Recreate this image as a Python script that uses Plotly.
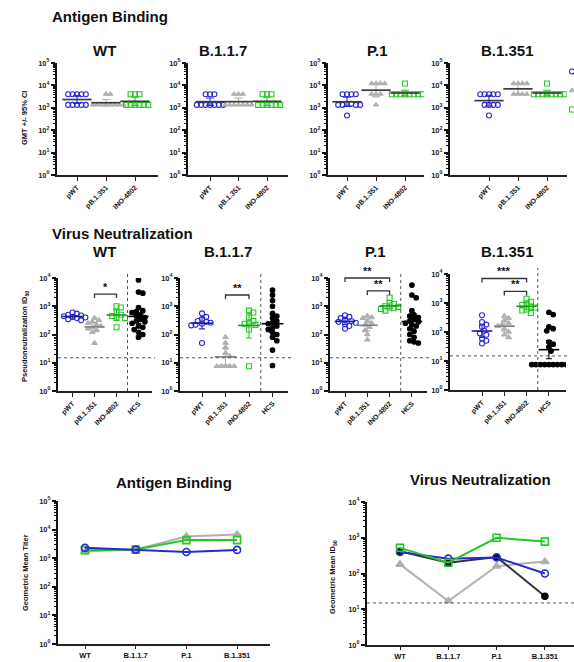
import numpy as np
import plotly.graph_objects as go

W, H = 574, 662
FONT = "Liberation Sans, Arial, sans-serif"

variants = ["WT", "B.1.1.7", "P.1", "B.1.351"]
ab_groups = ["pWT", "pB.1.351", "INO-4802"]
vn_groups = ["pWT", "pB.1.351", "INO-4802", "HCS"]

# ---------------- Antigen binding endpoint titers (top row) ----------------
ab_wt_pwt = [4050, 4050, 4050, 4050, 4050, 1350, 1350, 1350, 1350, 1350]
ab_wt_pb = [4050, 4050, 1350, 1350, 1350, 1350, 1350, 1350, 1350, 1350]
ab_wt_ino = [4050, 4050, 4050, 1350, 1350, 1350, 1350, 1350, 1350]
ab_b117_pwt = [4050, 4050, 4050, 1350, 1350, 1350, 1350, 1350, 1350, 1350]
ab_b117_pb = [4050, 4050, 4050, 1350, 1350, 1350, 1350, 1350, 1350, 1350]
ab_b117_ino = [4050, 4050, 4050, 1350, 1350, 1350, 1350, 1350, 1350]
ab_p1_pwt = [4050, 4050, 4050, 4050, 1500, 1500, 1350, 1350, 1350, 1350, 450]
ab_p1_pb = [12150, 12150, 12150, 12150, 4050, 4050, 4050, 1350]
ab_p1_ino = [12150, 4050, 4050, 4050, 4050, 4050, 4050, 4050, 4050]
ab_b1351_pwt = [4050, 4050, 4050, 4050, 4050, 1350, 1350, 1350, 1350, 450]
ab_b1351_pb = [12150, 12150, 12150, 12150, 4050, 4050, 4050, 4050]
ab_b1351_ino = [12150, 4050, 4050, 4050, 4050, 4050, 4050, 4050, 4050]

# ---------------- Pseudovirus neutralization ID50 (middle row) ----------------
vn_wt_pwt = [600, 550, 500, 470, 440, 420, 400, 380, 350, 320]
vn_wt_pb = [380, 320, 280, 250, 220, 200, 180, 160, 140, 120, 49]
vn_wt_ino = [1000, 900, 600, 500, 450, 400, 380, 180]
vn_wt_hcs = [8500, 3200, 2900, 900, 700, 650, 600, 500, 450, 400, 350, 300, 280,
             250, 200, 180, 150, 120, 100, 80]
vn_b117_pwt = [560, 420, 350, 300, 280, 260, 240, 220, 210, 50]
vn_b117_pb = [80, 50, 35, 22, 17, 7.5, 7.5, 7.5, 7.5, 7.5]
vn_b117_ino = [700, 600, 400, 300, 260, 240, 220, 150, 7.5]
vn_b117_hcs = [3700, 2500, 1600, 1000, 560, 450, 380, 300, 260, 240, 200, 170, 150,
               120, 100, 80, 60, 28, 8]
vn_p1_pwt = [480, 420, 380, 340, 300, 280, 260, 230, 200, 160]
vn_p1_pb = [450, 400, 380, 300, 250, 220, 180, 140, 100, 65]
vn_p1_ino = [2000, 1300, 1200, 1000, 950, 900, 850, 800, 700]
vn_p1_hcs = [5600, 2500, 2000, 700, 500, 450, 400, 350, 300, 280, 250, 220, 200, 160,
             130, 100, 80, 60, 55, 50]
vn_b1351_pwt = [380, 220, 180, 150, 110, 90, 80, 60, 50, 40]
vn_b1351_pb = [350, 300, 250, 200, 180, 160, 130, 100, 80, 65]
vn_b1351_ino = [1400, 1100, 950, 850, 750, 700, 600, 550, 450]
vn_b1351_hcs = [480, 400, 150, 130, 110, 45, 38, 30, 22, 7.5, 7.5, 7.5, 7.5, 7.5,
                7.5, 7.5, 7.5, 7.5, 7.5]

# significance brackets
sig_variant = ["WT", "B.1.1.7", "P.1", "P.1", "B.1.351", "B.1.351"]
sig_from = [1, 1, 0, 1, 0, 1]
sig_to = [2, 2, 2, 2, 2, 2]
sig_height = [2700, 2500, 10000, 3500, 7000, 2500]
sig_label = ["*", "**", "**", "**", "***", "**"]

lod_id50 = 15

# ---------------- Summary geometric means (bottom row) ----------------
gmt_ab_pwt = [2300, 2000, 1650, 1950]
gmt_ab_pb = [1700, 2000, 5700, 6700]
gmt_ab_ino = [1900, 2000, 4300, 4300]
gmt_vn_pwt = [400, 260, 280, 100]
gmt_vn_pb = [180, 17, 160, 215]
gmt_vn_ino = [520, 200, 1000, 780]
gmt_vn_hcs = [420, 200, 290, 23]

ab_data = {"WT": [ab_wt_pwt, ab_wt_pb, ab_wt_ino],
           "B.1.1.7": [ab_b117_pwt, ab_b117_pb, ab_b117_ino],
           "P.1": [ab_p1_pwt, ab_p1_pb, ab_p1_ino],
           "B.1.351": [ab_b1351_pwt, ab_b1351_pb, ab_b1351_ino]}
vn_data = {"WT": [vn_wt_pwt, vn_wt_pb, vn_wt_ino, vn_wt_hcs],
           "B.1.1.7": [vn_b117_pwt, vn_b117_pb, vn_b117_ino, vn_b117_hcs],
           "P.1": [vn_p1_pwt, vn_p1_pb, vn_p1_ino, vn_p1_hcs],
           "B.1.351": [vn_b1351_pwt, vn_b1351_pb, vn_b1351_ino, vn_b1351_hcs]}

COL = {"pWT": "#2828d4", "pB.1.351": "#b0b0b0", "INO-4802": "#25c825", "HCS": "#000000"}
SYM = {"pWT": "circle-open", "pB.1.351": "triangle-up", "INO-4802": "square-open", "HCS": "circle"}

# ---------------- geometry (pixels) ----------------
top_geo = {"WT": (57, 158, 77, 29), "B.1.1.7": (188, 288, 210, 28.5),
           "P.1": (328, 424, 347, 29), "B.1.351": (450, 567, 489, 29)}
mid_geo = {"WT": (58, 152, 72.5, 22), "B.1.1.7": (180, 288, 202, 23.5),
           "P.1": (330, 427, 345, 22.3), "B.1.351": (450, 566, 482, 22.3)}
mid_y = {"WT": (278, 391), "B.1.1.7": (278, 391), "P.1": (278, 391), "B.1.351": (274, 390)}


def px2x(px):
    return px / W


def py2y(py):
    return 1 - py / H


layout = {}
annotations = []
shapes = []
n_axes = [0]

TICKFONT = dict(family=FONT, size=7.5, color="#222", weight="bold")


def make_axes(x0, x1, c0, u, ytop, ybot, ymax_exp, xticks, xangle, xfont_size, xticklen=4):
    n_axes[0] += 1
    i = n_axes[0]
    xs = "" if i == 1 else str(i)
    xr = [(x0 - c0) / u, (x1 - c0) / u]
    major = [10 ** e for e in range(0, ymax_exp + 1)]
    minor = [k * 10 ** e for e in range(0, ymax_exp) for k in range(2, 10)]
    layout["xaxis" + xs] = dict(
        domain=[px2x(x0), px2x(x1)], range=xr, anchor="y" + xs,
        tickmode="array", tickvals=list(range(len(xticks))), ticktext=xticks,
        tickangle=xangle, ticks="outside", ticklen=xticklen, tickwidth=1.2, tickcolor="#222",
        showline=True, linewidth=1.8, linecolor="#222", showgrid=False, zeroline=False,
        tickfont=dict(family=FONT, size=xfont_size, color="#111", weight="bold"),
    )
    layout["yaxis" + xs] = dict(
        domain=[py2y(ybot), py2y(ytop)], type="log", range=[0, ymax_exp],
        anchor="x" + xs, tickmode="array", tickvals=major,
        ticktext=["10<sup>%d</sup>" % e for e in range(0, ymax_exp + 1)],
        ticks="outside", ticklen=4, tickwidth=1.5, tickcolor="#111",
        minor=dict(tickmode="array", tickvals=minor, ticks="outside", ticklen=2,
                   tickwidth=1, tickcolor="#111", showgrid=False),
        showline=True, linewidth=2.2, linecolor="#111", showgrid=False, zeroline=False,
        tickfont=TICKFONT,
    )

    def to_px(xv, yv):
        return c0 + u * xv, ybot - np.log10(yv) / ymax_exp * (ybot - ytop)

    return "x" + xs, "y" + xs, to_px


def swarm(vals, upx, px_per_dec, d):
    ly = np.log10(np.asarray(vals, dtype=float)) * px_per_dec
    order = np.argsort(-ly, kind="stable")
    placed = []
    offs = np.zeros(len(vals))
    s = d / 2.0
    for i in order:
        y = ly[i]
        k = 0
        chosen = None
        while chosen is None:
            cands = [0.0] if k == 0 else [k * s, -k * s]
            for c in cands:
                if all(np.hypot(c - px_, y - py_) >= d * 0.98 for px_, py_ in placed):
                    chosen = c
                    break
            k += 1
        placed.append((chosen, y))
        offs[i] = chosen / upx
    return offs


def tval(n):
    df = max(n - 1, 1)
    return 1.96 + 2.4 / df + 3.0 / df ** 2


def gm_ci(vals):
    lv = np.log10(np.asarray(vals, dtype=float))
    m = lv.mean()
    se = lv.std(ddof=1) / np.sqrt(len(lv)) if len(lv) > 1 else 0.0
    t = tval(len(lv))
    return 10 ** m, 10 ** (m - t * se), 10 ** (m + t * se)


def text(x, y, s, size, **kw):
    d = dict(x=px2x(x), y=py2y(y), xref="paper", yref="paper", text=s, showarrow=False,
             xanchor="center", yanchor="middle",
             font=dict(family=FONT, size=size, color="#111", weight="bold"))
    d.update(kw)
    annotations.append(d)


traces = []

# ---------------- top row ----------------
for v in variants:
    x0, x1, c0, u = top_geo[v]
    ytop, ybot = 63, 175
    xr, yr, to_px = make_axes(x0, x1, c0, u, ytop, ybot, 5, ab_groups, -45, 7)
    ppd = (ybot - ytop) / 5
    for gi, g in enumerate(ab_groups):
        vals = ab_data[v][gi]
        offs = swarm(vals, u, ppd, 4.4)
        traces.append(go.Scatter(
            x=gi + offs, y=vals, xaxis=xr, yaxis=yr, mode="markers", name=g,
            legendgroup=g, showlegend=(v == "B.1.351"),
            marker=dict(symbol=SYM[g], size=5 if g != "pB.1.351" else 4.5, color=COL[g],
                        line=dict(width=1.1, color=COL[g]))))
        gm, lo, hi = gm_ci(vals)
        traces.append(go.Scatter(
            x=[gi], y=[gm], xaxis=xr, yaxis=yr, mode="markers", showlegend=False,
            marker=dict(symbol="line-ew", size=2 * 0.36 * u,
                        line=dict(width=1.7, color="#3a3a3a")),
            error_y=dict(type="data", symmetric=False, array=[hi - gm], arrayminus=[gm - lo],
                         color=COL[g], thickness=1.1, width=4)))
    text((top_geo[v][0] + top_geo[v][1]) / 2 + {"WT": -3, "B.1.1.7": -15, "P.1": 1, "B.1.351": -1}[v],
         50, v, 15)

# ---------------- middle row ----------------
for v in variants:
    x0, x1, c0, u = mid_geo[v]
    ytop, ybot = mid_y[v]
    xr, yr, to_px = make_axes(x0, x1, c0, u, ytop, ybot, 4, vn_groups, -45, 7)
    ppd = (ybot - ytop) / 4
    for gi, g in enumerate(vn_groups):
        vals = vn_data[v][gi]
        offs = swarm(vals, u, ppd, 4.3)
        traces.append(go.Scatter(
            x=gi + offs, y=vals, xaxis=xr, yaxis=yr, mode="markers", showlegend=False,
            marker=dict(symbol=SYM[g], size=5 if g != "HCS" else 4.6, color=COL[g],
                        line=dict(width=1.1, color=COL[g]))))
        gm, lo, hi = gm_ci(vals)
        mc = {"pWT": "#1a1a9a", "pB.1.351": "#808080", "INO-4802": "#1a9a1a", "HCS": "#000"}[g]
        traces.append(go.Scatter(
            x=[gi], y=[gm], xaxis=xr, yaxis=yr, mode="markers", showlegend=False,
            marker=dict(symbol="line-ew", size=2 * 0.33 * u, line=dict(width=1.6, color=mc)),
            error_y=dict(type="data", symmetric=False, array=[hi - gm], arrayminus=[gm - lo],
                         color=COL[g], thickness=1.1, width=3)))
    # dotted separators
    sx, _ = to_px(2.5, 1)
    shapes.append(dict(type="line", xref="paper", yref="paper", x0=px2x(sx), x1=px2x(sx),
                       y0=py2y(ybot), y1=py2y(ytop - 6),
                       line=dict(color="#555", width=1, dash="dot")))
    _, ly = to_px(0, lod_id50)
    shapes.append(dict(type="line", xref="paper", yref="paper", x0=px2x(x0), x1=px2x(x1 + 3),
                       y0=py2y(ly), y1=py2y(ly), line=dict(color="#555", width=1, dash="dot")))
    for k in range(len(sig_variant)):
        if sig_variant[k] != v:
            continue
        ax_, by = to_px(sig_from[k], sig_height[k])
        bx_, _ = to_px(sig_to[k], sig_height[k])
        shapes.append(dict(type="path", xref="paper", yref="paper",
                           path="M %f %f L %f %f L %f %f L %f %f" % (
                               px2x(ax_), py2y(by + 4), px2x(ax_), py2y(by),
                               px2x(bx_), py2y(by), px2x(bx_), py2y(by + 4)),
                           line=dict(color="#333", width=1.3)))
        text((ax_ + bx_) / 2, by - 7, sig_label[k], 11)
    text((x0 + x1) / 2 + {"WT": -1, "B.1.1.7": -6, "P.1": -3, "B.1.351": 0}[v],
         252, v, 15)

# ---------------- bottom row ----------------
xr, yr, to_px = make_axes(58, 270, 85, 50.7, 501, 644, 5, variants, 0, 7.5, 3)
for name, vals in [("pB.1.351", gmt_ab_pb), ("INO-4802", gmt_ab_ino), ("pWT", gmt_ab_pwt)]:
    traces.append(go.Scatter(
        x=list(range(4)), y=vals, xaxis=xr, yaxis=yr, mode="lines+markers", showlegend=False,
        line=dict(color=COL[name], width=2),
        marker=dict(symbol=SYM[name], size=7, color=COL[name], line=dict(width=1.6, color=COL[name]))))

xr, yr, to_px = make_axes(367, 574, 400, 48.3, 502, 645, 4, variants, 0, 7.5, 3)
_, ly = to_px(0, lod_id50)
shapes.append(dict(type="line", xref="paper", yref="paper", x0=px2x(367), x1=1,
                   y0=py2y(ly), y1=py2y(ly), line=dict(color="#555", width=1, dash="dot")))
for name, vals in [("pB.1.351", gmt_vn_pb), ("HCS", gmt_vn_hcs), ("pWT", gmt_vn_pwt),
                   ("INO-4802", gmt_vn_ino)]:
    traces.append(go.Scatter(
        x=list(range(4)), y=vals, xaxis=xr, yaxis=yr, mode="lines+markers", showlegend=False,
        line=dict(color=COL[name] if name != "HCS" else "#333", width=2),
        marker=dict(symbol=SYM[name], size=7 if name != "HCS" else 6, color=COL[name],
                    line=dict(width=1.6, color=COL[name]))))

# ---------------- titles ----------------
text(50, 17, "Antigen Binding", 15, xanchor="left")
text(50, 233, "Virus Neutralization", 15, xanchor="left")
text(174, 482, "Antigen Binding", 15)
text(480, 479, "Virus Neutralization", 15)
text(25, 118, "GMT +/- 95% CI", 7.5, textangle=-90)
text(25, 337, "Pseudoneutralization ID<sub>50</sub>", 7.5, textangle=-90)
text(25, 573, "Geometric Mean Titer", 7.5, textangle=-90)
text(333, 577, "Geometric Mean ID<sub>50</sub>", 7.5, textangle=-90)

fig = go.Figure(data=traces)
fig.update_layout(
    width=W, height=H, margin=dict(l=0, r=0, t=0, b=0, autoexpand=False),
    paper_bgcolor="white", plot_bgcolor="white",
    font=dict(family=FONT, color="#111"),
    annotations=annotations, shapes=shapes,
    legend=dict(x=px2x(552), y=py2y(57), xanchor="left", yanchor="top",
                font=dict(size=6, family=FONT), bgcolor="rgba(0,0,0,0)",
                tracegroupgap=0, itemclick=False),
    **layout,
)
fig.write_html("out.html", config={"displayModeBar": False},
               post_script="document.body.style.margin='0px';")
